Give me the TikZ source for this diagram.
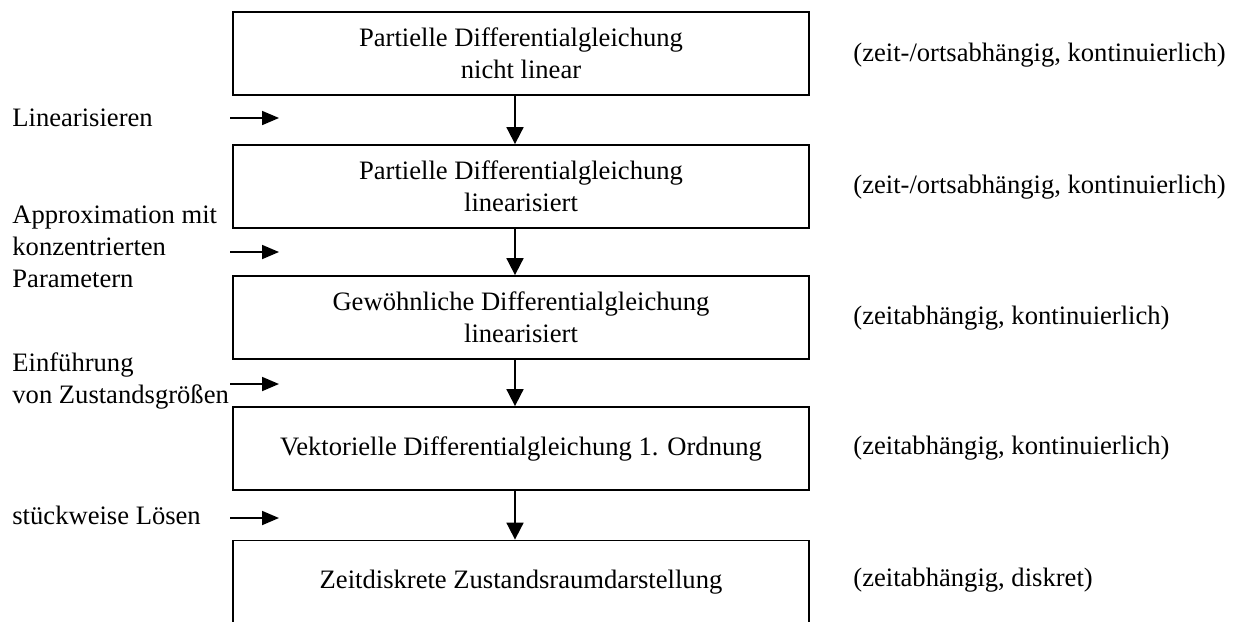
\documentclass[tikz,border=0pt]{standalone}
\usepackage{fontspec}
\setmainfont{Liberation Serif}
\usetikzlibrary{arrows.meta}
\begin{document}
\begin{tikzpicture}[x=0.5pt,y=-0.5pt,
  every node/.style={font=\fontsize{13.3}{16}\selectfont},
  stage/.style={draw,line width=0.9pt,rectangle,minimum width=288pt,minimum height=41.5pt,align=center,inner sep=0pt},
  note/.style={anchor=west,inner sep=0pt,align=left},
  flow/.style={line width=0.9pt,-{Triangle[length=8.5pt,width=8.5pt]}},
  side/.style={line width=0.9pt,-{Triangle[length=8.5pt,width=7pt]}}]
\useasboundingbox (0,0) rectangle (1236,621);

% stages of the derivation
\node[stage] (b1) at (521,53.5) {Partielle Differentialgleichung\\nicht linear};
\node[stage] (b2) at (521,186.5) {Partielle Differentialgleichung\\linearisiert};
\node[stage] (b3) at (521,317.5) {Gewöhnliche Differentialgleichung\\linearisiert};
\node[stage] (b4) at (521,448.5) {Vektorielle Differentialgleichung 1. Ordnung};
\node[stage] (b5) at (521,582) {Zeitdiskrete Zustandsraumdarstellung};

% transitions between stages
\coordinate (ax) at (515,0);
\draw[flow] (b1.south -| ax) -- (b2.north -| ax);
\draw[flow] (b2.south -| ax) -- (b3.north -| ax);
\draw[flow] (b3.south -| ax) -- (b4.north -| ax);
\draw[flow] (b4.south -| ax) -- (b5.north -| ax);

% steps on the left
\node[note,anchor=base west] (s1) at (12,126) {Linearisieren};
\node[note] (s2) at (12,247) {Approximation mit\\konzentrierten\\Parametern};
\node[note] (s3) at (12,381) {Einführung\\von Zustandsgrößen};
\node[note,anchor=base west] (s4) at (12,524) {stückweise Lösen};

\coordinate (a1s) at (230,118); \coordinate (a1e) at (279,118);
\coordinate (a2s) at (230,252); \coordinate (a2e) at (279,252);
\coordinate (a3s) at (230,384); \coordinate (a3e) at (279,384);
\coordinate (a4s) at (230,518); \coordinate (a4e) at (279,518);
\draw[side] (a1s) -- (a1e);
\draw[side] (a2s) -- (a2e);
\draw[side] (a3s) -- (a3e);
\draw[side] (a4s) -- (a4e);

% properties on the right
\node[note] (r1) at (853,55) {(zeit-/ortsabhängig, kontinuierlich)};
\node[note] (r2) at (853,187) {(zeit-/ortsabhängig, kontinuierlich)};
\node[note] (r3) at (853,318) {(zeitabhängig, kontinuierlich)};
\node[note] (r4) at (853,448) {(zeitabhängig, kontinuierlich)};
\node[note] (r5) at (853,580) {(zeitabhängig, diskret)};
\end{tikzpicture}
\end{document}
